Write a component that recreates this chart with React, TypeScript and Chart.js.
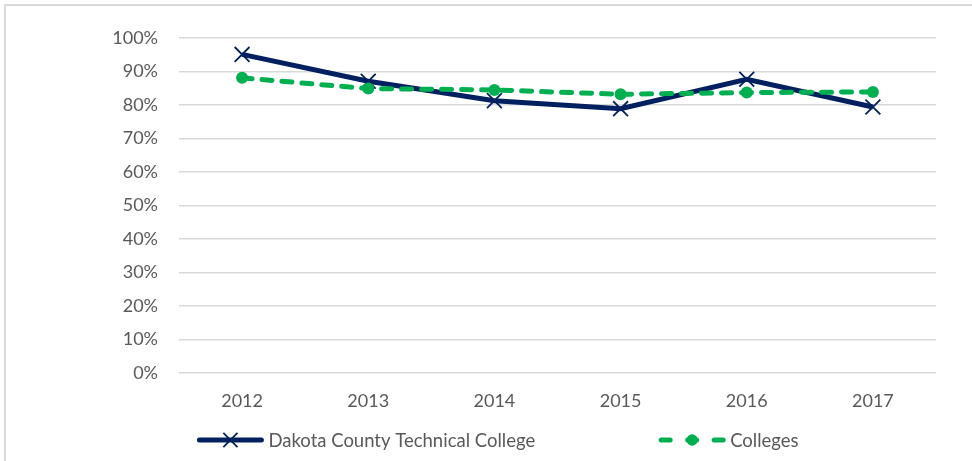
import React, { useEffect, useRef } from "react";
import { Chart, registerables } from "chart.js";

Chart.register(...registerables);

const years = ["2012", "2013", "2014", "2015", "2016", "2017"];
const dctcValues = [95.1, 87.1, 81.3, 78.9, 87.7, 79.4];
const collegesValues = [88.1, 84.9, 84.5, 83.2, 83.7, 83.9];
const seriesNames = ["Dakota County Technical College", "Colleges"];
const yMin = 0;
const yMax = 100;
const yStep = 10;

const NAVY = "#002060";
const GREEN = "#00B050";
const TEXT = "#595959";
const GRID = "#d9d9d9";
const FONT_FAMILY = "Lato, 'Open Sans', sans-serif";

function drawMarker(ctx: CanvasRenderingContext2D, style: string, x: number, y: number, r: number, color: string, bw: number) {
  ctx.save();
  ctx.setLineDash([]);
  if (style === "crossRot") {
    const o = r * Math.SQRT1_2;
    ctx.strokeStyle = color;
    ctx.lineWidth = bw;
    ctx.lineCap = "butt";
    ctx.beginPath();
    ctx.moveTo(x - o, y - o);
    ctx.lineTo(x + o, y + o);
    ctx.moveTo(x - o, y + o);
    ctx.lineTo(x + o, y - o);
    ctx.stroke();
  } else {
    ctx.fillStyle = color;
    ctx.beginPath();
    ctx.arc(x, y, r, 0, Math.PI * 2);
    ctx.fill();
  }
  ctx.restore();
}

const legendPlugin = {
  id: "customLegend",
  afterDraw(chart: any) {
    const ctx: CanvasRenderingContext2D = chart.ctx;
    ctx.save();
    ctx.font = `18.5px ${FONT_FAMILY}`;
    const lineLen = 62;
    const textGap = 7;
    const itemGap = 126;
    const order = [...chart.data.datasets].sort((a: any, b: any) => a.legendIndex - b.legendIndex);
    const widths = order.map((ds: any) => lineLen + textGap + ctx.measureText(ds.label).width);
    const total = widths.reduce((s: number, w: number) => s + w, 0) + itemGap * (order.length - 1);
    let x = (chart.width - total) / 2 + 13;
    const y = 440;
    order.forEach((ds: any, i: number) => {
      ctx.save();
      ctx.strokeStyle = ds.borderColor;
      ctx.lineWidth = ds.borderWidth;
      ctx.lineCap = "round";
      if (ds.borderDash && ds.borderDash.length) ctx.setLineDash([9, 17.5]);
      else ctx.setLineDash([]);
      ctx.beginPath();
      ctx.moveTo(x, y);
      ctx.lineTo(x + lineLen, y);
      ctx.stroke();
      ctx.restore();
      drawMarker(ctx, ds.pointStyle, x + lineLen / 2, y, ds.pointRadius * 0.95, ds.pointBorderColor || ds.borderColor, ds.pointBorderWidth || 1);
      ctx.fillStyle = TEXT;
      ctx.textBaseline = "middle";
      ctx.textAlign = "left";
      ctx.fillText(ds.label, x + lineLen + textGap, y + 1);
      x += widths[i] + itemGap;
    });
    ctx.restore();
  },
};

export default function App() {
  const canvasRef = useRef<HTMLCanvasElement | null>(null);

  useEffect(() => {
    if (!canvasRef.current) return;
    const chart = new Chart(canvasRef.current, {
      type: "line",
      data: {
        labels: years,
        datasets: [
          {
            label: seriesNames[0],
            data: dctcValues,
            borderColor: NAVY,
            backgroundColor: NAVY,
            borderWidth: 5,
            pointStyle: "crossRot",
            pointRadius: 10.5,
            pointBorderWidth: 1.8,
            pointBorderColor: NAVY,
            pointBackgroundColor: NAVY,
            tension: 0,
            order: 1,
            legendIndex: 0,
          } as any,
          {
            label: seriesNames[1],
            data: collegesValues,
            borderColor: GREEN,
            backgroundColor: GREEN,
            borderWidth: 5,
            borderDash: [10, 10],
            borderCapStyle: "round",
            pointStyle: "circle",
            pointRadius: 6,
            pointBorderWidth: 0,
            pointBorderColor: GREEN,
            pointBackgroundColor: GREEN,
            tension: 0,
            order: 0,
            legendIndex: 1,
          } as any,
        ],
      },
      options: {
        responsive: false,
        animation: false,
        layout: { padding: { top: 38, right: 36, bottom: 0, left: 0 } },
        plugins: {
          legend: { display: false },
          tooltip: { enabled: false },
        },
        scales: {
          x: {
            offset: true,
            grid: { display: false, drawTicks: false, offset: true },
            border: { display: false },
            ticks: {
              color: TEXT,
              font: { family: FONT_FAMILY, size: 18 },
              padding: 17,
              maxRotation: 0,
            },
            afterFit: (scale: any) => {
              scale.height = 88;
            },
          },
          y: {
            min: yMin,
            max: yMax,
            grid: { color: GRID, lineWidth: 1.5, drawTicks: false },
            border: { display: false },
            ticks: {
              stepSize: yStep,
              color: TEXT,
              font: { family: FONT_FAMILY, size: 18 },
              padding: 21,
              callback: (v: any) => `${v}%`,
            },
            afterFit: (scale: any) => {
              scale.width = 179;
            },
          },
        },
      },
      plugins: [legendPlugin],
    });
    return () => chart.destroy();
  }, []);

  return (
    <div style={{ position: "fixed", left: 0, top: 0, width: 972, height: 461, background: "#fff", overflow: "hidden" }}>
      <div
        style={{
          position: "absolute",
          left: 4,
          top: 4,
          width: 1100,
          height: 600,
          border: `2px solid ${GRID}`,
          boxSizing: "border-box",
        }}
      />
      <canvas ref={canvasRef} width={972} height={461} style={{ position: "absolute", left: 0, top: 0, width: 972, height: 461 }} />
    </div>
  );
}
